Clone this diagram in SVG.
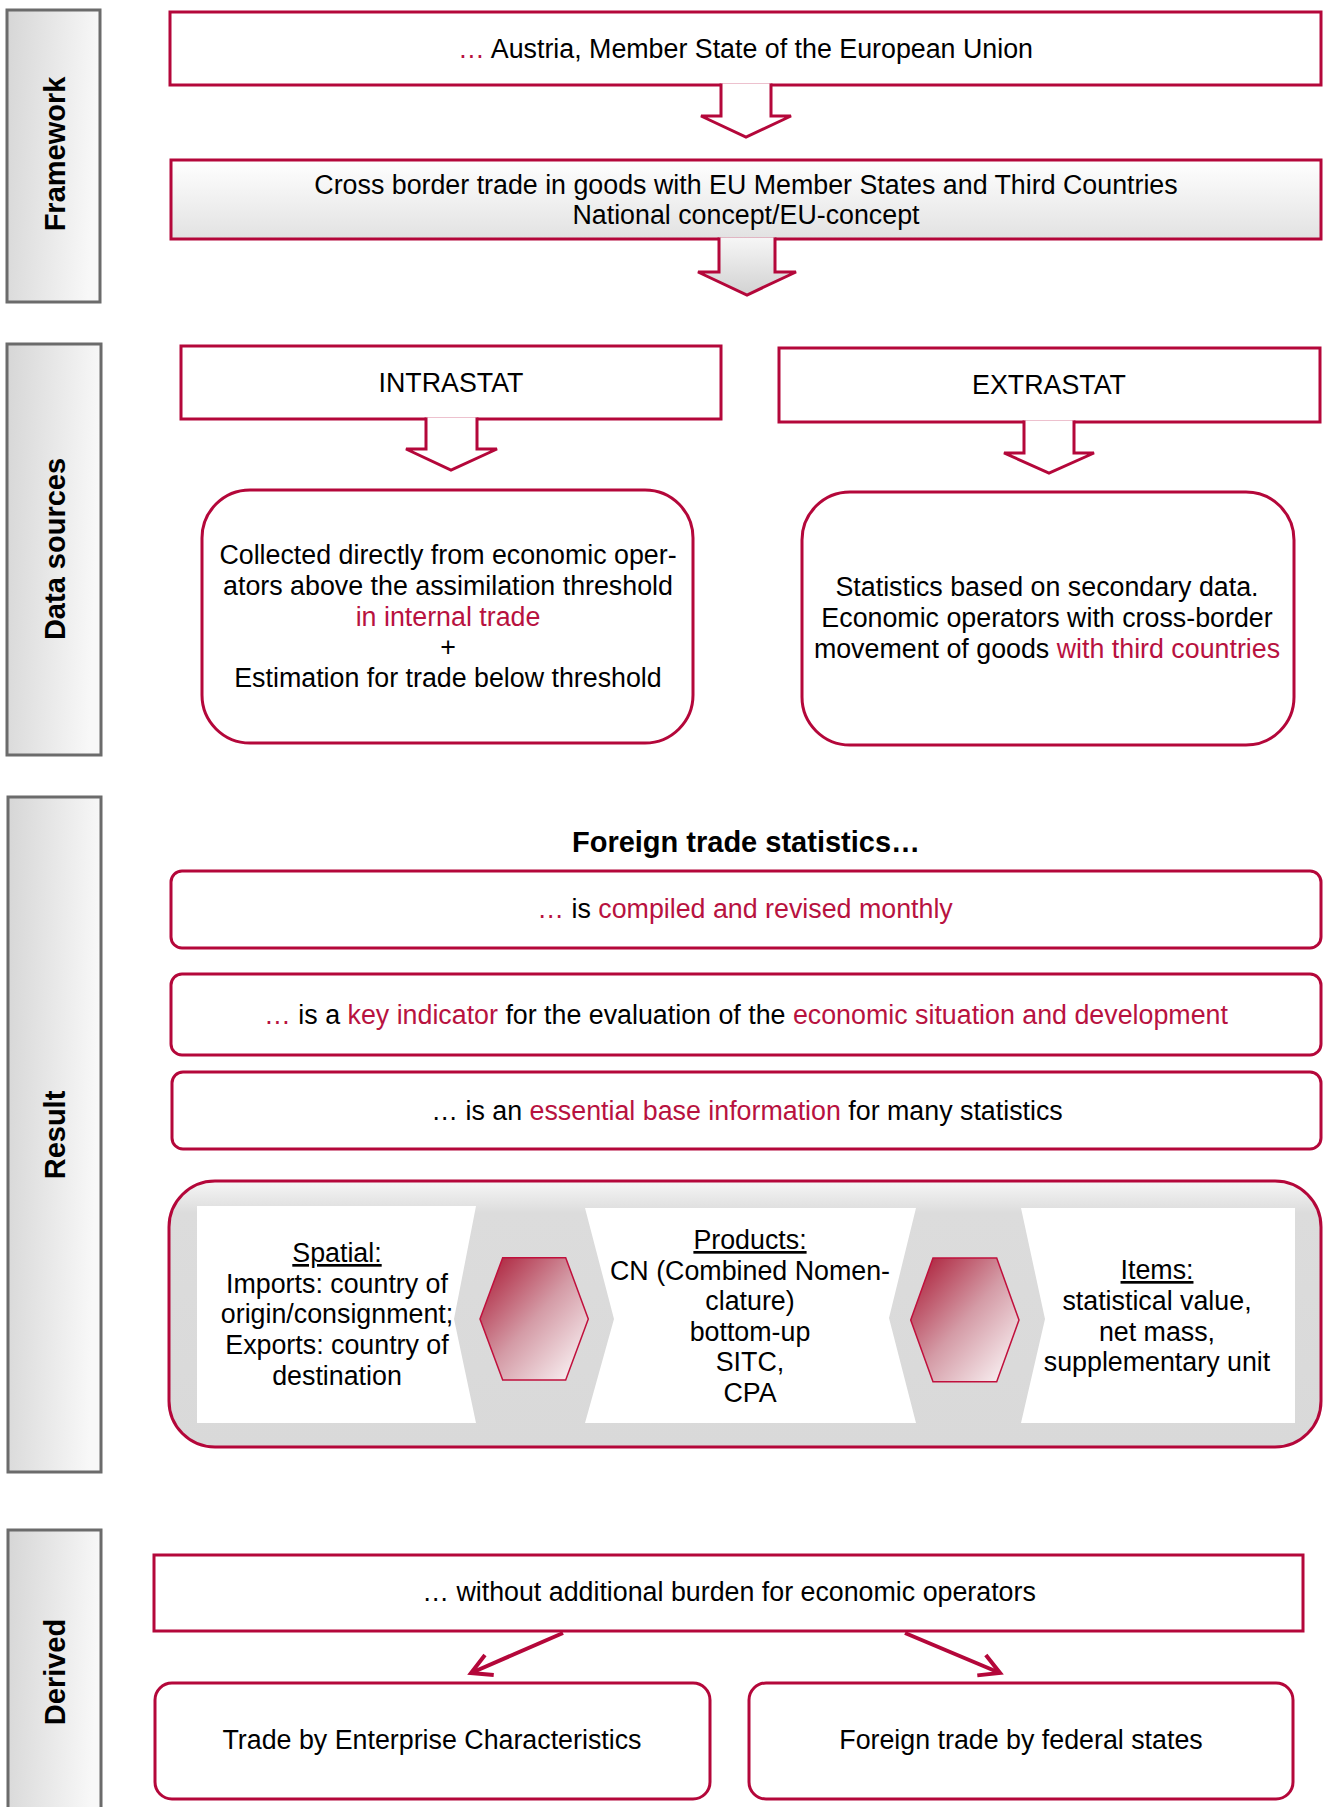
<svg xmlns="http://www.w3.org/2000/svg" width="1325" height="1807" viewBox="0 0 1325 1807">
<defs>
<linearGradient id="gSide" x1="0" y1="0" x2="1" y2="0.15">
<stop offset="0" stop-color="#d6d6d6"/><stop offset="1" stop-color="#f8f8f8"/>
</linearGradient>
<linearGradient id="gBox2" x1="0" y1="0" x2="0" y2="1">
<stop offset="0" stop-color="#ffffff"/><stop offset="1" stop-color="#e2e2e2"/>
</linearGradient>
<linearGradient id="gArr2" x1="0" y1="0" x2="0" y2="1">
<stop offset="0" stop-color="#f6f6f6"/><stop offset="1" stop-color="#d2d2d2"/>
</linearGradient>
<linearGradient id="gBig" x1="0" y1="0" x2="0" y2="1">
<stop offset="0" stop-color="#f6f6f6"/><stop offset="0.12" stop-color="#dcdcdc"/><stop offset="1" stop-color="#d9d9d9"/>
</linearGradient>
<linearGradient id="gHex" x1="0" y1="0" x2="1" y2="1">
<stop offset="0" stop-color="#a8132f"/><stop offset="0.5" stop-color="#d49ba6"/><stop offset="1" stop-color="#ffffff"/>
</linearGradient>
<marker id="head" markerUnits="userSpaceOnUse" viewBox="-24 -14 28 28" markerWidth="28" markerHeight="28" refX="0" refY="0" orient="auto">
<path d="M-20,-11 L0,0 L-20,11" fill="none" stroke="#b4073a" stroke-width="4"/>
</marker>
<style>
.side{fill:url(#gSide);stroke:#6b6b6b;stroke-width:3}
.lab{font-family:"Liberation Sans",Arial,sans-serif;font-weight:bold;font-size:29px;fill:#000;text-anchor:middle}
.box{fill:#fff;stroke:#b4073a;stroke-width:3}
.t{font-family:"Liberation Sans",Arial,sans-serif;font-size:26.8px;fill:#000;text-anchor:middle}
.r{fill:#b8123f}
.u{text-decoration:underline}
.arr{fill:#fff;stroke:#b4073a;stroke-width:3}
.hex{fill:url(#gHex);stroke:#c0103c;stroke-width:1.5}
.pan{fill:#fff;stroke:none}
.con{fill:none;stroke:#b4073a;stroke-width:4}
</style>
</defs>

<g id="side-framework">
<rect class="side" x="7" y="10" width="93" height="292"/>
<text class="lab" transform="translate(65,154) rotate(-90)">Framework</text>
</g>
<g id="side-datasources">
<rect class="side" x="7" y="344" width="94" height="411"/>
<text class="lab" transform="translate(65,549) rotate(-90)">Data sources</text>
</g>
<g id="side-result">
<rect class="side" x="8" y="797" width="93" height="675"/>
<text class="lab" transform="translate(65,1135) rotate(-90)">Result</text>
</g>
<g id="side-derived">
<rect class="side" x="8" y="1530" width="93" height="320"/>
<text class="lab" transform="translate(65,1672) rotate(-90)">Derived</text>
</g>

<g id="austria">
<rect class="box" x="170" y="12" width="1151" height="73"/>
<text class="t" x="745.5" y="58"><tspan class="r">…</tspan> Austria, Member State of the European Union</text>
</g>
<g id="crossborder">
<rect class="box" x="171" y="160" width="1150" height="79" style="fill:url(#gBox2)"/>
<text class="t" x="746" y="194">Cross border trade in goods with EU Member States and Third Countries</text>
<text class="t" x="746" y="224">National concept/EU-concept</text>
</g>
<g id="intrastat">
<rect class="box" x="181" y="346" width="540" height="73"/>
<text class="t" x="451" y="392">INTRASTAT</text>
</g>
<g id="extrastat">
<rect class="box" x="779" y="348" width="541" height="74"/>
<text class="t" x="1049" y="393.5">EXTRASTAT</text>
</g>
<g id="intrastat-desc">
<rect class="box" x="202" y="490" width="491" height="253" rx="48" ry="48"/>
<text class="t" x="448" y="564">Collected directly from economic oper-</text>
<text class="t" x="448" y="595">ators above the assimilation threshold</text>
<text class="t r" x="448" y="626">in internal trade</text>
<text class="t" x="448" y="656">+</text>
<text class="t" x="448" y="687">Estimation for trade below threshold</text>
</g>
<g id="extrastat-desc">
<rect class="box" x="802" y="492" width="492" height="253" rx="48" ry="48"/>
<text class="t" x="1047" y="596">Statistics based on secondary data.</text>
<text class="t" x="1047" y="627">Economic operators with cross-border</text>
<text class="t" x="1047" y="658">movement of goods <tspan class="r">with third countries</tspan></text>
</g>

<g id="title">
<text class="t" x="746" y="852" style="font-weight:bold;font-size:29px">Foreign trade statistics…</text>
</g>
<g id="monthly">
<rect class="box" x="171" y="871" width="1150" height="77" rx="11" ry="11"/>
<text class="t" x="745" y="918"><tspan class="r">…</tspan> is <tspan class="r">compiled and revised monthly</tspan></text>
</g>
<g id="key-indicator">
<rect class="box" x="171" y="974" width="1150" height="81" rx="11" ry="11"/>
<text class="t" x="746" y="1024"><tspan class="r">…</tspan> is a <tspan class="r">key indicator</tspan> for the evaluation of the <tspan class="r">economic situation and development</tspan></text>
</g>
<g id="base-info">
<rect class="box" x="172" y="1072" width="1149" height="77" rx="11" ry="11"/>
<text class="t" x="747" y="1120">… is an <tspan class="r">essential base information</tspan> for many statistics</text>
</g>

<g id="dimensions">
<rect x="169" y="1181" width="1152" height="266" rx="46" ry="46" style="fill:url(#gBig);stroke:#b4073a;stroke-width:3"/>
<polygon class="pan" points="197,1206 476,1206 454,1319 476,1423 197,1423"/>
<polygon class="pan" points="585,1208 916,1208 889,1318 916,1423 585,1423 614,1319"/>
<polygon class="pan" points="1021,1208 1295,1208 1295,1423 1021,1423 1045,1319"/>
<polygon class="hex" points="502.7,1257.7 565.7,1257.7 588.3,1319 565.7,1380 502.7,1380 480,1319"/>
<polygon class="hex" points="933,1258 996.7,1258 1019,1320 996.7,1381.7 933,1381.7 910.7,1320"/>
</g>
<g id="spatial">
<text class="t u" x="337" y="1262">Spatial:</text>
<text class="t" x="337" y="1293">Imports: country of</text>
<text class="t" x="337" y="1323">origin/consignment;</text>
<text class="t" x="337" y="1354">Exports: country of</text>
<text class="t" x="337" y="1385">destination</text>
</g>
<g id="products">
<text class="t u" x="750" y="1249">Products:</text>
<text class="t" x="750" y="1280">CN (Combined Nomen-</text>
<text class="t" x="750" y="1310">clature)</text>
<text class="t" x="750" y="1341">bottom-up</text>
<text class="t" x="750" y="1371">SITC,</text>
<text class="t" x="750" y="1402">CPA</text>
</g>
<g id="items">
<text class="t u" x="1157" y="1279">Items:</text>
<text class="t" x="1157" y="1310">statistical value,</text>
<text class="t" x="1157" y="1341">net mass,</text>
<text class="t" x="1157" y="1371">supplementary unit</text>
</g>

<g id="no-burden">
<rect class="box" x="154" y="1555" width="1149" height="76"/>
<text class="t" x="729" y="1601">… without additional burden for economic operators</text>
</g>
<g id="enterprise">
<rect class="box" x="155" y="1683" width="555" height="116" rx="17" ry="17"/>
<text class="t" x="432" y="1749">Trade by Enterprise Characteristics</text>
</g>
<g id="federal">
<rect class="box" x="749" y="1683" width="544" height="116" rx="17" ry="17"/>
<text class="t" x="1021" y="1749">Foreign trade by federal states</text>
</g>

<g id="connectors">
<path class="arr" d="M721,83.5 V116 H701 L746,137 L791,116 H771 V83.5"/>
<path class="arr" d="M719,237.5 V272 H698 L747,295 L796,272 H775 V237.5" style="fill:url(#gArr2)"/>
<path class="arr" d="M426,417.5 V449 H406 L451,470 L497,449 H477 V417.5"/>
<path class="arr" d="M1024,420.5 V453 H1004 L1049,473 L1094,453 H1074 V420.5"/>
<line class="con" x1="563" y1="1633" x2="471" y2="1673" marker-end="url(#head)"/>
<line class="con" x1="905" y1="1633" x2="1000" y2="1673" marker-end="url(#head)"/>
</g>
</svg>
